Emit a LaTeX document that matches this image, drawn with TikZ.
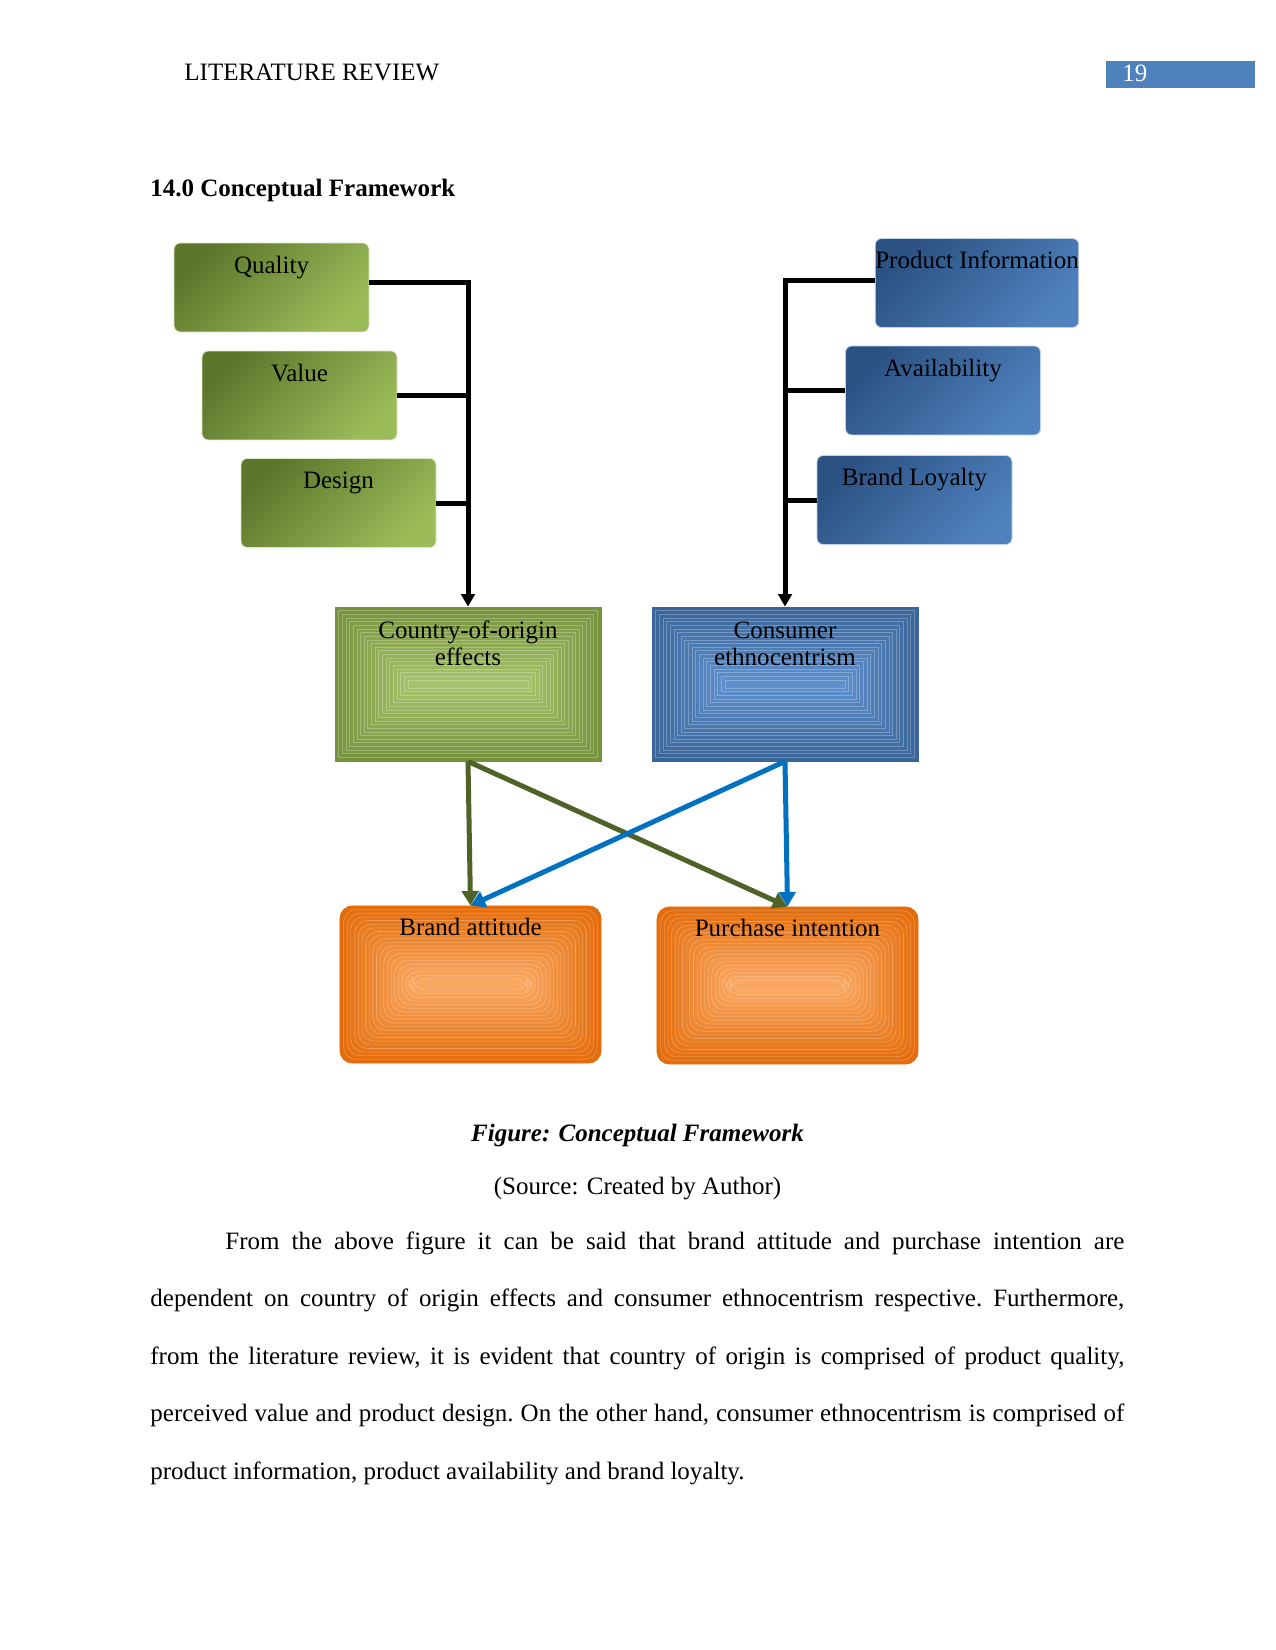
\documentclass[tikz,border=0pt,12pt]{standalone}
\usepackage{fontspec}
\setmainfont{Liberation Serif}
\usetikzlibrary{positioning, arrows.meta, calc}

\definecolor{oliveDark}{HTML}{5C772C}
\definecolor{oliveLight}{HTML}{9BBB59}
\definecolor{navyDark}{HTML}{2C5283}
\definecolor{navyLight}{HTML}{4F81BD}
\definecolor{cooOuter}{HTML}{76923C}
\definecolor{cooInner}{HTML}{A6C26A}
\definecolor{ceOuter}{HTML}{3A6598}
\definecolor{ceInner}{HTML}{5F90CE}
\definecolor{outOuter}{HTML}{E46C0A}
\definecolor{outInner}{HTML}{F9A862}
\definecolor{arrowGreen}{HTML}{4F6228}
\definecolor{arrowBlue}{HTML}{0070C0}
\definecolor{pageBlue}{HTML}{4F81BD}

\tikzset{
	ringfill/.style 2 args={draw=#1, fill=#1, path picture={
		\foreach \k in {1,...,20} {
			\pgfmathtruncatemacro\mixpct{\k*5}
			\filldraw[fill=#2!\mixpct!#1, draw=#2!\mixpct!#1!75!white, line width=0.3pt] ($(path picture bounding box.south west)+(\k*1.75pt,\k*1.75pt)$) rectangle ($(path picture bounding box.north east)-(\k*1.75pt,\k*1.75pt)$);
		}
	}},
}

\begin{document}
\begin{tikzpicture}[
	x=0.48pt, y=-0.48pt,
	plain/.style={inner sep=0pt},
	leaf/.style={rectangle, rounded corners=3pt, inner sep=0pt, minimum width=93.6pt, text height=14.4pt, text depth=28.3pt},
	leafG/.style={leaf, draw=oliveLight!35!white, top color=oliveDark, bottom color=oliveLight, shading angle=45},
	leafB/.style={leaf, draw=navyLight!35!white, top color=navyDark, bottom color=navyLight, shading angle=45},
	core/.style={rectangle, inner sep=0pt, minimum width=127.7pt, align=center, font={\fontsize{12}{13.2}\selectfont}, text height=28.1pt, text depth=45.8pt},
	outcome/.style={rectangle, rounded corners=6pt, inner sep=0pt, minimum width=125.3pt, align=center, text height=14.4pt, text depth=61pt},
	feed/.style={line width=2.4pt},
	link/.style={line width=2.4pt, -{Triangle[width=8pt,length=7pt]}},
]
	\useasboundingbox (0,0) rectangle (1275,1650);

	% Running head
	\node[plain, anchor=base west] (runhead) at (184,81) {LITERATURE REVIEW};
	\node[fill=pageBlue, anchor=north west, minimum width=71.5pt, minimum height=13pt, inner sep=0pt] (pagebox) at (1106,61) {};
	\node[plain, anchor=base west, text=white] (pageno) at (1122,82) {19};

	% Section heading
	\node[plain, anchor=base west, font=\bfseries] (sechead) at (150,197) {14.0 Conceptual Framework};

	% Left factors
	\node[leafG] (qual) at (271.5,287.5) {Quality};
	\node[leafG] (valu) at (299.5,395.5) {Value};
	\node[leafG] (desg) at (338.5,503) {Design};

	% Right factors
	\node[leafB] (pinf) at (977,283) {Product Information};
	\node[leafB] (avail) at (943,390.5) {Availability};
	\node[leafB] (bloy) at (914.5,500) {Brand Loyalty};

	% Constructs
	\node[core, ringfill={cooOuter}{cooInner}] (coo) at (468,684) {Country-of-origin\\effects};
	\node[core, ringfill={ceOuter}{ceInner}] (ce) at (785,684) {Consumer\\ethnocentrism};

	% Outcomes
	\node[outcome, ringfill={outOuter}{outInner}] (batt) at (470.5,984.5) {Brand attitude};
	\node[outcome, ringfill={outOuter}{outInner}] (pint) at (787.5,985.5) {Purchase intention};

	% Factors -> constructs
	\draw[feed, -{Triangle[width=6.5pt,length=6pt]}] ([yshift=2.6pt]qual.east) -| (coo.north);
	\draw[feed] (valu.east) -- (valu.east -| coo.north);
	\draw[feed] (desg.east) -- (desg.east -| coo.north);
	\draw[feed, -{Triangle[width=6.5pt,length=6pt]}] ([yshift=1.4pt]pinf.west) -| (ce.north);
	\draw[feed] (avail.west) -- (avail.west -| ce.north);
	\draw[feed] (bloy.west) -- (bloy.west -| ce.north);

	% Constructs -> outcomes
	\draw[link, arrowGreen] (coo.south) -- (batt.north);
	\draw[link, arrowGreen] (coo.south) -- (pint.north);
	\draw[link, arrowBlue] (ce.south) -- (batt.north);
	\draw[link, arrowBlue] (ce.south) -- (pint.north);

	% Caption and text
	\node[plain, anchor=base, font=\bfseries\itshape] (figcap) at (637.5,1141) {Figure: Conceptual Framework};
	\node[plain, anchor=base] (figsrc) at (637.5,1194) {(Source: Created by Author)};
	\node[anchor=base west, inner sep=0pt, text width=467.5pt, align=justify, font={\fontsize{12}{27.6}\selectfont\frenchspacing\hyphenpenalty=10000}] (para) at (150,1249) {\hspace*{36pt}From the above figure it can be said that brand attitude and purchase intention are\linebreak dependent on country of origin effects and consumer ethnocentrism respective. Furthermore,\linebreak from the literature review, it is evident that country of origin is comprised of product quality,\linebreak perceived value and product design. On the other hand, consumer ethnocentrism is comprised of\linebreak product information, product availability and brand loyalty.};
\end{tikzpicture}
\end{document}
